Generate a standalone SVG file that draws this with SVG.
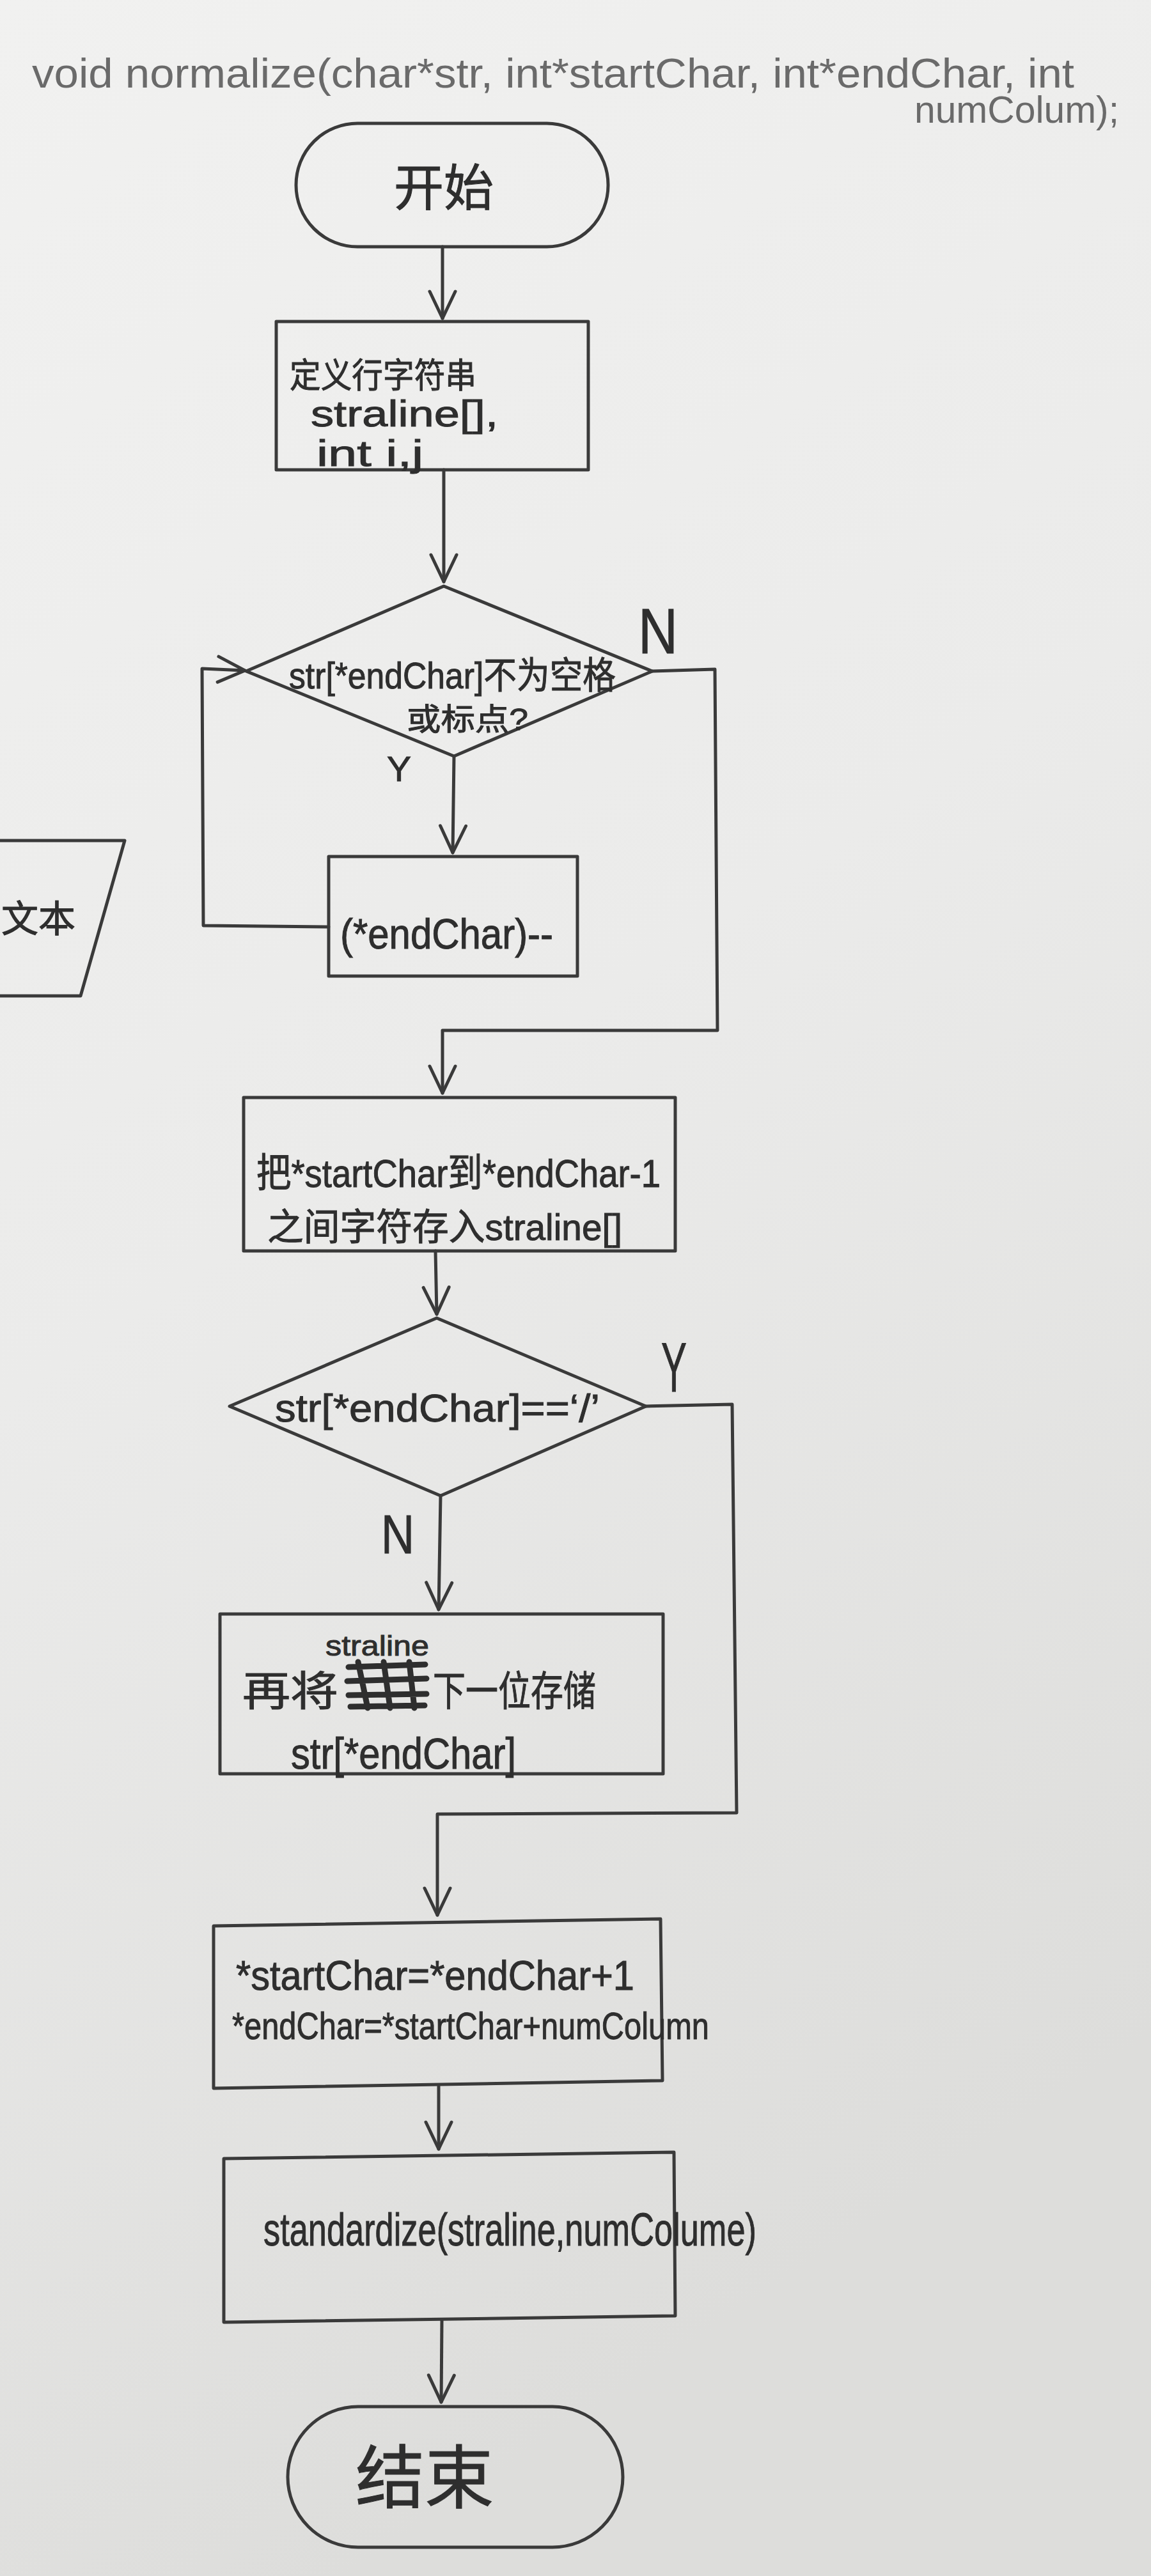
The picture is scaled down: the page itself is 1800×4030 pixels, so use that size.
<svg xmlns="http://www.w3.org/2000/svg" width="1800" height="4030" viewBox="0 0 1800 4030">
<defs>
<linearGradient id="paper" x1="0" y1="0" x2="0.3" y2="1">
<stop offset="0" stop-color="#f1f1f0"/>
<stop offset="0.5" stop-color="#ebebea"/>
<stop offset="1" stop-color="#dddddb"/>
</linearGradient>
<marker id="arr" markerUnits="userSpaceOnUse" viewBox="-50 -30 60 60" markerWidth="60" markerHeight="60" refX="0" refY="0" orient="auto">
<path d="M -42 -20 L 0 0 L -42 20" fill="none" stroke="#3a3a3a" stroke-width="5" stroke-linecap="round" stroke-linejoin="round"/>
</marker>
</defs>
<style>
.sh{fill:none;stroke:#3a3a3a;stroke-width:5;stroke-linejoin:round}
.cn{fill:none;stroke:#3a3a3a;stroke-width:5;stroke-linejoin:round;stroke-linecap:round}
.t{font-family:"Liberation Sans","Noto Sans CJK SC",sans-serif;fill:#2e2e2e;stroke:#2e2e2e;stroke-width:1}
.hd{font-family:"Liberation Sans","Noto Sans CJK SC",sans-serif;fill:#6a6a6a}
</style>
<rect x="0" y="0" width="1800" height="4030" fill="url(#paper)"/>

<g id="header">
<text class="hd" x="50" y="137" font-size="64" textLength="1630" lengthAdjust="spacingAndGlyphs">void normalize(char*str, int*startChar, int*endChar, int</text>
<text class="hd" x="1430" y="192" font-size="60" textLength="320" lengthAdjust="spacingAndGlyphs">numColum);</text>
</g>

<g id="connectors">
<path class="cn" d="M692 386 L692 498" marker-end="url(#arr)"/>
<path class="cn" d="M694 735 L694 910" marker-end="url(#arr)"/>
<path class="cn" d="M710 1183 L708 1334" marker-end="url(#arr)"/>
<path class="cn" d="M1020 1050 L1118 1047 L1122 1612 L692 1612 L692 1710" marker-end="url(#arr)"/>
<path class="cn" d="M514 1450 L318 1448 L316 1046 L383 1049" marker-end="url(#arr)"/>
<path class="cn" d="M681 1957 L683 2056" marker-end="url(#arr)"/>
<path class="cn" d="M689 2340 L686 2518" marker-end="url(#arr)"/>
<path class="cn" d="M1010 2200 L1145 2197 L1152 2836 L684 2838 L684 2996" marker-end="url(#arr)"/>
<path class="cn" d="M686 3264 L686 3362" marker-end="url(#arr)"/>
<path class="cn" d="M691 3630 L690 3758" marker-end="url(#arr)"/>
</g>

<g id="start">
<rect class="sh" x="463" y="193" width="488" height="193" rx="96"/>
<text class="t" x="694" y="322" font-size="78" text-anchor="middle">开始</text>
</g>

<g id="define">
<rect class="sh" x="432" y="503" width="488" height="232"/>
<text class="t" x="453" y="607" font-size="54" textLength="292" lengthAdjust="spacingAndGlyphs">定义行字符串</text>
<text class="t" x="486" y="667" font-size="58" textLength="293" lengthAdjust="spacingAndGlyphs">straline[],</text>
<text class="t" x="495" y="729" font-size="58" textLength="167" lengthAdjust="spacingAndGlyphs">int i,j</text>
</g>

<g id="cond1">
<polygon class="sh" points="694,917 1020,1050 710,1183 385,1050"/>
<text class="t" x="452" y="1077" font-size="58" textLength="511" lengthAdjust="spacingAndGlyphs">str[*endChar]不为空格</text>
<text class="t" x="636" y="1142" font-size="48" textLength="190" lengthAdjust="spacingAndGlyphs">或标点?</text>
<text class="t" x="998" y="1022" font-size="100" textLength="62" lengthAdjust="spacingAndGlyphs">N</text>
<text class="t" x="605" y="1222" font-size="56" textLength="38" lengthAdjust="spacingAndGlyphs">Y</text>
</g>

<g id="decrement">
<rect class="sh" x="514" y="1340" width="389" height="187"/>
<text class="t" x="532" y="1484" font-size="66" textLength="333" lengthAdjust="spacingAndGlyphs">(*endChar)--</text>
</g>

<g id="text-input">
<path class="sh" d="M-10 1315 L195 1315 L126 1558 L-10 1558"/>
<text class="t" x="2" y="1458" font-size="58">文本</text>
</g>

<g id="copy">
<rect class="sh" x="381" y="1717" width="675" height="240"/>
<text class="t" x="401" y="1857" font-size="62" textLength="632" lengthAdjust="spacingAndGlyphs">把*startChar到*endChar-1</text>
<text class="t" x="418" y="1940" font-size="58" textLength="555" lengthAdjust="spacingAndGlyphs">之间字符存入straline[]</text>
</g>

<g id="cond2">
<polygon class="sh" points="683,2062 1010,2200 689,2340 359,2200"/>
<text class="t" x="430" y="2224" font-size="62" textLength="508" lengthAdjust="spacingAndGlyphs">str[*endChar]==‘/’</text>
<text class="t" x="1034" y="2177" font-size="110" textLength="40" lengthAdjust="spacingAndGlyphs">Y</text>
<text class="t" x="596" y="2430" font-size="86" textLength="52" lengthAdjust="spacingAndGlyphs">N</text>
</g>

<g id="store">
<rect class="sh" x="344" y="2525" width="693" height="250"/>
<text class="t" x="509" y="2590" font-size="44" textLength="162" lengthAdjust="spacingAndGlyphs">straline</text>
<text class="t" x="379" y="2668" font-size="64" textLength="150" lengthAdjust="spacingAndGlyphs">再将</text>
<path d="M545 2608 L665 2604 M543 2630 L667 2626 M545 2652 L667 2650 M548 2670 L664 2668 M560 2600 L575 2672 M600 2600 L610 2672 M640 2600 L648 2672" fill="none" stroke="#2e2e2e" stroke-width="9" stroke-linecap="round"/>
<text class="t" x="677" y="2668" font-size="64" textLength="255" lengthAdjust="spacingAndGlyphs">下一位存储</text>
<text class="t" x="455" y="2767" font-size="68" textLength="352" lengthAdjust="spacingAndGlyphs">str[*endChar]</text>
</g>

<g id="advance">
<path class="sh" d="M334 3013 L1033 3002 L1036 3255 L334 3267 Z"/>
<text class="t" x="369" y="3113" font-size="64" textLength="623" lengthAdjust="spacingAndGlyphs">*startChar=*endChar+1</text>
<text class="t" x="363" y="3190" font-size="60" textLength="746" lengthAdjust="spacingAndGlyphs">*endChar=*startChar+numColumn</text>
</g>

<g id="standardize">
<path class="sh" d="M350 3377 L1054 3367 L1056 3623 L350 3633 Z"/>
<text class="t" x="412" y="3513" font-size="72" textLength="771" lengthAdjust="spacingAndGlyphs">standardize(straline,numColume)</text>
</g>

<g id="end">
<rect class="sh" x="450" y="3765" width="524" height="220" rx="110"/>
<text class="t" x="556" y="3915" font-size="108" textLength="216" lengthAdjust="spacing">结束</text>
</g>
</svg>
